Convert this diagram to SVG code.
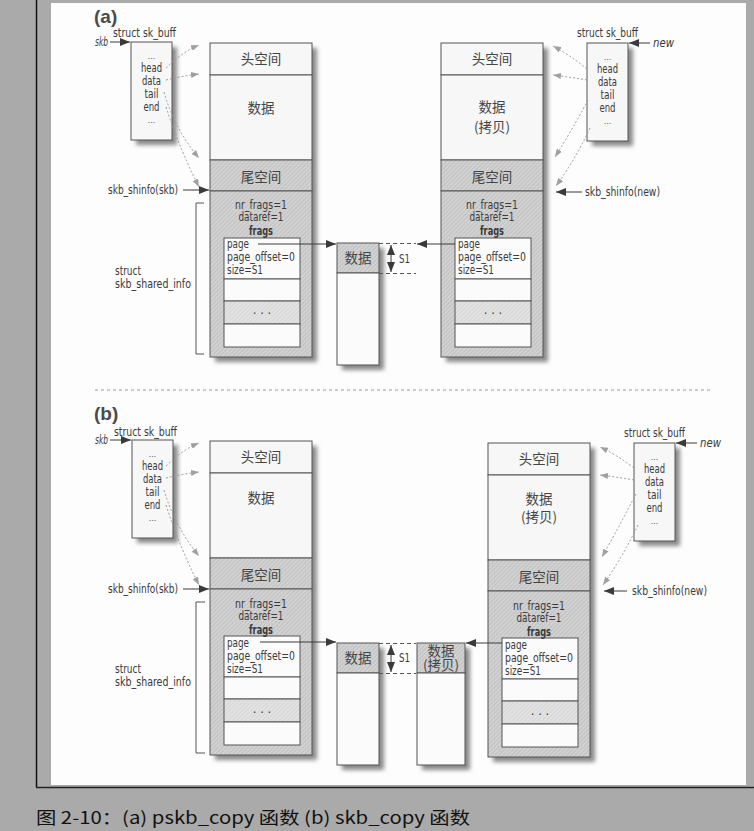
<svg xmlns="http://www.w3.org/2000/svg" xmlns:xlink="http://www.w3.org/1999/xlink" width="754" height="831" viewBox="0 0 754 831">
<style>
.t{font-family:"Liberation Sans Narrow","DejaVu Sans Condensed","Liberation Sans",Arial,sans-serif;font-size:13px;fill:#3a3a3a}
.s{font-size:12.5px}
.m{text-anchor:middle}
.i{font-style:italic}
.c{font-family:"Noto Sans CJK SC","Noto Sans CJK JP",sans-serif;font-size:13.5px;fill:#444;text-anchor:middle}
.lbl{font-family:"Liberation Sans","DejaVu Sans",Arial,sans-serif;font-weight:bold;font-size:19px;fill:#4a4a4a}
.light{fill:#f7f7f7;stroke:#555;stroke-width:1}
.white{fill:#fbfbfb;stroke:#555;stroke-width:1}
.hatch{fill:url(#hatch);stroke:#555;stroke-width:1}
.hatch2{fill:url(#hatch2);stroke:#555;stroke-width:1}
.shadow{fill:#8a8a8a;filter:url(#blur)}
.dot{fill:none;stroke:#9a9a9a;stroke-width:1;stroke-dasharray:2 2;marker-end:url(#ahl)}
.arr{fill:none;stroke:#3a3a3a;stroke-width:1;marker-end:url(#ah)}
.dash{fill:none;stroke:#555;stroke-width:1;stroke-dasharray:4 3}
.el{font-family:"Liberation Sans",Arial,sans-serif;font-size:9px;fill:#555;text-anchor:middle}
</style>
<defs>
<filter id="blur" x="-20%" y="-20%" width="140%" height="140%"><feGaussianBlur stdDeviation="2"/></filter>
<pattern id="hatch" width="3" height="3" patternUnits="userSpaceOnUse" patternTransform="rotate(45)">
<rect width="3" height="3" fill="#d2d2d2"/><line x1="0" y1="0" x2="0" y2="3" stroke="#b4b4b4" stroke-width="1.2"/>
</pattern>
<pattern id="hatch2" width="3" height="3" patternUnits="userSpaceOnUse" patternTransform="rotate(45)">
<rect width="3" height="3" fill="#e2e2e2"/><line x1="0" y1="0" x2="0" y2="3" stroke="#cacaca" stroke-width="1"/>
</pattern>
<marker id="ah" viewBox="0 0 10 8" refX="10" refY="4" markerWidth="10" markerHeight="8" markerUnits="userSpaceOnUse" orient="auto-start-reverse">
<path d="M0,0 L10,4 L0,8 Z" fill="#3a3a3a"/>
</marker>
<marker id="ahl" viewBox="0 0 8 6" refX="8" refY="3" markerWidth="8" markerHeight="6" markerUnits="userSpaceOnUse" orient="auto">
<path d="M0,0 L8,3 L0,6 Z" fill="#a0a0a0"/>
</marker>
<g id="bufShape">
<rect x="5" y="5" width="102" height="314" class="shadow"/>
<rect x="0" y="0" width="102" height="32" class="light"/>
<rect x="0" y="32" width="102" height="85" class="light"/>
<rect x="0" y="117" width="102" height="31" class="hatch"/>
<rect x="0" y="148" width="102" height="166" class="hatch"/>
<rect x="14" y="195" width="76" height="41" class="white"/>
<rect x="14" y="236" width="76" height="22" class="white"/>
<rect x="14" y="258" width="76" height="23" class="hatch2"/>
<rect x="14" y="281" width="76" height="23" class="white"/>
</g>
<g id="skbShape">
<rect x="5" y="5" width="41" height="98" class="shadow"/>
<rect x="0" y="0" width="41" height="98" class="light"/>
</g>
<g id="pageShape">
<rect x="5" y="5" width="42" height="122" class="shadow"/>
<rect x="0" y="0" width="42" height="30" class="hatch"/>
<rect x="0" y="30" width="42" height="92" class="white"/>
</g>
</defs>

<!-- page background -->
<rect x="0" y="0" width="754" height="831" fill="#aaaaaa"/>
<rect x="51" y="3" width="695" height="782" fill="#fdfdfd"/>
<line x1="36.5" y1="0" x2="36.5" y2="787" stroke="#111" stroke-width="1.5"/>
<line x1="36" y1="787.5" x2="754" y2="787.5" stroke="#222" stroke-width="1.5"/>
<text x="36" y="824" font-family="'Noto Sans CJK SC',sans-serif" font-size="17" font-weight="400" fill="#111" textLength="434" lengthAdjust="spacingAndGlyphs">图 2-10：(a) pskb_copy 函数 (b) skb_copy 函数</text>

<!-- ===== (a) ===== -->
<text class="lbl" x="94" y="23">(a)</text>
<g id="a-skb-left">
<use xlink:href="#skbShape" x="131" y="42"/>
<text class="t s" x="113" y="37" textLength="63" lengthAdjust="spacingAndGlyphs">struct sk_buff</text>
<text class="t i" x="95" y="46" textLength="13" lengthAdjust="spacingAndGlyphs">skb</text>
<text class="el" x="151.5" y="59">...</text>
<text class="t m" x="151.5" y="72" textLength="21" lengthAdjust="spacingAndGlyphs">head</text>
<text class="t m" x="151.5" y="85" textLength="19" lengthAdjust="spacingAndGlyphs">data</text>
<text class="t m" x="151.5" y="98" textLength="14" lengthAdjust="spacingAndGlyphs">tail</text>
<text class="t m" x="151.5" y="111" textLength="16" lengthAdjust="spacingAndGlyphs">end</text>
<text class="el" x="151.5" y="123">...</text>
</g>
<g id="a-buf-left">
<use xlink:href="#bufShape" x="210" y="43"/>
<text class="c" x="261" y="64">头空间</text>
<text class="c" x="261" y="113">数据</text>
<text class="c" x="261" y="182">尾空间</text>
<text class="t m" x="261" y="209" textLength="52" lengthAdjust="spacingAndGlyphs">nr_frags=1</text>
<text class="t m" x="261" y="221" textLength="45" lengthAdjust="spacingAndGlyphs">dataref=1</text>
<text class="t m" x="261" y="235" font-weight="bold" textLength="24" lengthAdjust="spacingAndGlyphs">frags</text>
<text class="t" x="227" y="248" textLength="22" lengthAdjust="spacingAndGlyphs">page</text>
<text class="t" x="227" y="261" textLength="68" lengthAdjust="spacingAndGlyphs">page_offset=0</text>
<text class="t" x="227" y="274" textLength="36" lengthAdjust="spacingAndGlyphs">size=S1</text>
<text class="t m" x="262" y="314" fill="#777">. . .</text>
<text class="t" x="108" y="194" textLength="70" lengthAdjust="spacingAndGlyphs">skb_shinfo(skb)</text>
<text class="t" x="115" y="275" textLength="26" lengthAdjust="spacingAndGlyphs">struct</text>
<text class="t" x="115" y="288" textLength="76" lengthAdjust="spacingAndGlyphs">skb_shared_info</text>
<path d="M204,203 H196 V354 H204" fill="none" stroke="#555"/>
</g>
<g id="a-page">
<use xlink:href="#pageShape" x="337" y="243"/>
<text class="c" x="358" y="263">数据</text>
<text class="t" x="399" y="263" textLength="11" lengthAdjust="spacingAndGlyphs">S1</text>
</g>
<g id="a-buf-right">
<use xlink:href="#bufShape" x="441" y="43"/>
<text class="c" x="492" y="64">头空间</text>
<text class="c" x="492" y="112">数据</text>
<text class="c" x="492" y="132">(拷贝)</text>
<text class="c" x="492" y="182">尾空间</text>
<text class="t m" x="492" y="209" textLength="52" lengthAdjust="spacingAndGlyphs">nr_frags=1</text>
<text class="t m" x="492" y="221" textLength="45" lengthAdjust="spacingAndGlyphs">dataref=1</text>
<text class="t m" x="492" y="235" font-weight="bold" textLength="24" lengthAdjust="spacingAndGlyphs">frags</text>
<text class="t" x="458" y="248" textLength="22" lengthAdjust="spacingAndGlyphs">page</text>
<text class="t" x="458" y="261" textLength="68" lengthAdjust="spacingAndGlyphs">page_offset=0</text>
<text class="t" x="458" y="274" textLength="36" lengthAdjust="spacingAndGlyphs">size=S1</text>
<text class="t m" x="493" y="314" fill="#777">. . .</text>
<text class="t" x="585" y="196" textLength="75" lengthAdjust="spacingAndGlyphs">skb_shinfo(new)</text>
</g>
<g id="a-skb-right">
<use xlink:href="#skbShape" x="587" y="43"/>
<text class="t s" x="577" y="37" textLength="61" lengthAdjust="spacingAndGlyphs">struct sk_buff</text>
<text class="t i" x="653" y="47" textLength="21" lengthAdjust="spacingAndGlyphs">new</text>
<text class="el" x="607.5" y="60">...</text>
<text class="t m" x="607.5" y="73" textLength="21" lengthAdjust="spacingAndGlyphs">head</text>
<text class="t m" x="607.5" y="86" textLength="19" lengthAdjust="spacingAndGlyphs">data</text>
<text class="t m" x="607.5" y="99" textLength="14" lengthAdjust="spacingAndGlyphs">tail</text>
<text class="t m" x="607.5" y="112" textLength="16" lengthAdjust="spacingAndGlyphs">end</text>
<text class="el" x="607.5" y="124">...</text>
</g>

<line x1="95" y1="390" x2="712" y2="390" stroke="#999" stroke-dasharray="3 3"/>

<!-- ===== (b) ===== -->
<text class="lbl" x="94" y="420">(b)</text>
<g id="b-skb-left">
<use xlink:href="#skbShape" x="132" y="440"/>
<text class="t s" x="114" y="436" textLength="63" lengthAdjust="spacingAndGlyphs">struct sk_buff</text>
<text class="t i" x="95" y="444" textLength="13" lengthAdjust="spacingAndGlyphs">skb</text>
<text class="el" x="152.5" y="457">...</text>
<text class="t m" x="152.5" y="470" textLength="21" lengthAdjust="spacingAndGlyphs">head</text>
<text class="t m" x="152.5" y="483" textLength="19" lengthAdjust="spacingAndGlyphs">data</text>
<text class="t m" x="152.5" y="496" textLength="14" lengthAdjust="spacingAndGlyphs">tail</text>
<text class="t m" x="152.5" y="509" textLength="16" lengthAdjust="spacingAndGlyphs">end</text>
<text class="el" x="152.5" y="521">...</text>
</g>
<g id="b-buf-left">
<use xlink:href="#bufShape" x="210" y="441"/>
<text class="c" x="261" y="462">头空间</text>
<text class="c" x="261" y="503">数据</text>
<text class="c" x="261" y="580">尾空间</text>
<text class="t m" x="261" y="608" textLength="52" lengthAdjust="spacingAndGlyphs">nr_frags=1</text>
<text class="t m" x="261" y="620" textLength="45" lengthAdjust="spacingAndGlyphs">dataref=1</text>
<text class="t m" x="261" y="634" font-weight="bold" textLength="24" lengthAdjust="spacingAndGlyphs">frags</text>
<text class="t" x="227" y="647" textLength="22" lengthAdjust="spacingAndGlyphs">page</text>
<text class="t" x="227" y="660" textLength="68" lengthAdjust="spacingAndGlyphs">page_offset=0</text>
<text class="t" x="227" y="673" textLength="36" lengthAdjust="spacingAndGlyphs">size=S1</text>
<text class="t m" x="262" y="713" fill="#777">. . .</text>
<text class="t" x="108" y="593" textLength="70" lengthAdjust="spacingAndGlyphs">skb_shinfo(skb)</text>
<text class="t" x="115" y="673" textLength="26" lengthAdjust="spacingAndGlyphs">struct</text>
<text class="t" x="115" y="686" textLength="76" lengthAdjust="spacingAndGlyphs">skb_shared_info</text>
<path d="M205,602 H196 V753 H205" fill="none" stroke="#555"/>
</g>
<g id="b-page">
<use xlink:href="#pageShape" x="337" y="643"/>
<text class="c" x="358" y="663">数据</text>
<text class="t" x="399" y="662" textLength="11" lengthAdjust="spacingAndGlyphs">S1</text>
</g>
<g id="b-page-copy">
<rect x="422" y="648" width="48" height="122" class="shadow"/>
<rect x="417" y="643" width="48" height="30" class="hatch"/>
<rect x="417" y="673" width="48" height="92" class="white"/>
<text class="c" x="441" y="656" font-size="12.5">数据</text>
<text class="c" x="441" y="670" font-size="12.5">(拷贝)</text>
</g>
<g id="b-buf-right">
<use xlink:href="#bufShape" x="488" y="443"/>
<text class="c" x="539" y="464">头空间</text>
<text class="c" x="539" y="504">数据</text>
<text class="c" x="539" y="522">(拷贝)</text>
<text class="c" x="539" y="582">尾空间</text>
<text class="t m" x="539" y="610" textLength="52" lengthAdjust="spacingAndGlyphs">nr_frags=1</text>
<text class="t m" x="539" y="622" textLength="45" lengthAdjust="spacingAndGlyphs">dataref=1</text>
<text class="t m" x="539" y="636" font-weight="bold" textLength="24" lengthAdjust="spacingAndGlyphs">frags</text>
<text class="t" x="505" y="649" textLength="22" lengthAdjust="spacingAndGlyphs">page</text>
<text class="t" x="505" y="662" textLength="68" lengthAdjust="spacingAndGlyphs">page_offset=0</text>
<text class="t" x="505" y="675" textLength="36" lengthAdjust="spacingAndGlyphs">size=S1</text>
<text class="t m" x="540" y="715" fill="#777">. . .</text>
<text class="t" x="632" y="595" textLength="75" lengthAdjust="spacingAndGlyphs">skb_shinfo(new)</text>
</g>
<g id="b-skb-right">
<use xlink:href="#skbShape" x="634" y="443"/>
<text class="t s" x="624" y="437" textLength="61" lengthAdjust="spacingAndGlyphs">struct sk_buff</text>
<text class="t i" x="700" y="447" textLength="21" lengthAdjust="spacingAndGlyphs">new</text>
<text class="el" x="654.5" y="460">...</text>
<text class="t m" x="654.5" y="473" textLength="21" lengthAdjust="spacingAndGlyphs">head</text>
<text class="t m" x="654.5" y="486" textLength="19" lengthAdjust="spacingAndGlyphs">data</text>
<text class="t m" x="654.5" y="499" textLength="14" lengthAdjust="spacingAndGlyphs">tail</text>
<text class="t m" x="654.5" y="512" textLength="16" lengthAdjust="spacingAndGlyphs">end</text>
<text class="el" x="654.5" y="524">...</text>
</g>

<!-- connectors -->
<g id="connectors">
<path class="arr" d="M110,42 H130"/>
<path class="arr" d="M183,190 H209"/>
<path class="arr" d="M650,43 H629"/>
<path class="arr" d="M582,192 H556"/>
<path class="arr" d="M258,244 H336"/>
<path class="arr" d="M455,244 H417"/>
<path class="dash" d="M379,243.5 H416 M379,273.5 H416"/>
<path d="M391,245 V272" fill="none" stroke="#3a3a3a" marker-start="url(#ah)" marker-end="url(#ah)"/>
<path class="dot" d="M166,68 Q182,52 199,45"/>
<path class="dot" d="M166,80 Q182,76 199,74"/>
<path class="dot" d="M164,92 Q175,130 199,158"/>
<path class="dot" d="M166,107 Q180,150 199,187"/>
<path class="dot" d="M587,69 Q570,55 553,46"/>
<path class="dot" d="M587,80 Q570,77 553,75"/>
<path class="dot" d="M588,100 Q572,130 555,157"/>
<path class="dot" d="M590,128 Q575,160 556,186"/>

<path class="arr" d="M110,440 H131"/>
<path class="arr" d="M183,589 H209"/>
<path class="arr" d="M697,443 H676"/>
<path class="arr" d="M627,591 H604"/>
<path class="arr" d="M260,642 H336"/>
<path class="arr" d="M502,643 H466"/>
<path class="dash" d="M379,643.5 H416 M379,673.5 H416"/>
<path d="M391,645 V672" fill="none" stroke="#3a3a3a" marker-start="url(#ah)" marker-end="url(#ah)"/>
<path class="dot" d="M166,466 Q182,450 199,443"/>
<path class="dot" d="M166,478 Q182,474 199,472"/>
<path class="dot" d="M164,490 Q175,527 199,556"/>
<path class="dot" d="M166,505 Q180,548 199,585"/>
<path class="dot" d="M634,468 Q617,455 600,447"/>
<path class="dot" d="M634,480 Q617,477 600,475"/>
<path class="dot" d="M636,494 Q620,525 602,557"/>
<path class="dot" d="M638,525 Q622,558 603,585"/>
</g>
</svg>
